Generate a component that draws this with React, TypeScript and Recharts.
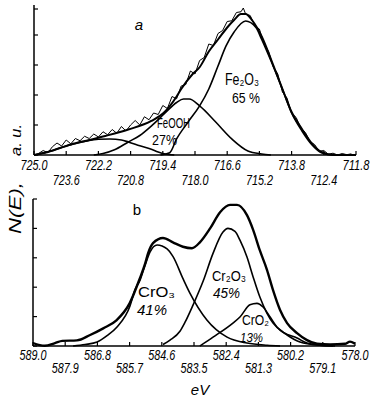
import React from 'react';
import { LineChart, Line, XAxis, YAxis } from 'recharts';

// ---------- Panel a (Fe 2p) ----------
const feTickValues = [725.0, 723.6, 722.2, 720.8, 719.4, 718.0, 716.6, 715.2, 713.8, 712.4, 711.0];
const feTickLabels = ['725.0', '723.6', '722.2', '720.8', '719.4', '718.0', '716.6', '715.2', '713.8', '712.4', '711.8'];
const yTickValues = [0, 1, 2, 3, 4, 5, 6, 7, 8, 9, 10];

const feEnvelope = [
  { e: 725.0, v: 0 }, { e: 724.4, v: 0.2 }, { e: 723.4, v: 0.7 }, { e: 722.6, v: 1.0 },
  { e: 721.9, v: 1.27 }, { e: 720.9, v: 1.7 }, { e: 719.9, v: 2.27 }, { e: 719.3, v: 2.9 },
  { e: 718.8, v: 3.9 }, { e: 718.6, v: 4.4 }, { e: 718.1, v: 5.4 }, { e: 717.8, v: 5.85 },
  { e: 717.4, v: 6.9 }, { e: 717.0, v: 7.7 }, { e: 716.6, v: 8.5 }, { e: 716.3, v: 9.0 },
  { e: 716.0, v: 9.4 }, { e: 715.8, v: 9.4 }, { e: 715.5, v: 8.95 }, { e: 715.1, v: 7.9 },
  { e: 714.65, v: 6.2 }, { e: 714.2, v: 4.4 }, { e: 713.8, v: 2.87 }, { e: 713.35, v: 1.73 },
  { e: 712.9, v: 0.73 }, { e: 712.5, v: 0.2 }, { e: 712.0, v: 0 }, { e: 711.0, v: 0 },
];
const feSatellite = [
  { e: 725.0, v: 0 }, { e: 724.3, v: 0.25 }, { e: 723.6, v: 0.6 }, { e: 722.8, v: 0.9 },
  { e: 722.2, v: 1.05 }, { e: 721.7, v: 1.07 }, { e: 721.2, v: 1.0 }, { e: 720.9, v: 0.87 },
  { e: 720.4, v: 0.62 }, { e: 719.9, v: 0.38 }, { e: 719.6, v: 0.2 }, { e: 719.3, v: 0.07 },
  { e: 718.9, v: 0 },
];
const feOOH = [
  { e: 722.4, v: 0 }, { e: 722.0, v: 0.1 }, { e: 721.5, v: 0.35 }, { e: 720.9, v: 0.87 },
  { e: 720.4, v: 1.3 }, { e: 719.9, v: 1.93 }, { e: 719.3, v: 2.8 }, { e: 718.8, v: 3.5 },
  { e: 718.5, v: 3.73 }, { e: 718.25, v: 3.73 }, { e: 717.8, v: 3.27 }, { e: 717.1, v: 2.2 },
  { e: 716.4, v: 1.07 }, { e: 715.7, v: 0.27 }, { e: 715.1, v: 0.07 }, { e: 714.7, v: 0 },
];
const feFe2O3 = [
  { e: 719.5, v: 0 }, { e: 719.1, v: 0.15 }, { e: 718.8, v: 1.07 }, { e: 718.3, v: 2.2 },
  { e: 717.8, v: 3.27 }, { e: 717.4, v: 4.4 }, { e: 717.0, v: 5.93 }, { e: 716.65, v: 7.27 },
  { e: 716.3, v: 8.2 }, { e: 715.8, v: 8.93 }, { e: 715.35, v: 8.5 }, { e: 715.1, v: 7.7 },
  { e: 714.65, v: 6.1 }, { e: 714.2, v: 4.4 }, { e: 713.8, v: 2.8 }, { e: 713.35, v: 1.6 },
  { e: 712.9, v: 0.65 }, { e: 712.5, v: 0.15 }, { e: 712.0, v: 0 }, { e: 711.0, v: 0 },
];
const feRaw = [
  { e: 724.8, v: 0.1 }, { e: 724.6, v: 0.3 }, { e: 724.4, v: 0.15 }, { e: 724.2, v: 0.55 },
  { e: 724.0, v: 0.8 }, { e: 723.8, v: 0.6 }, { e: 723.6, v: 1.0 }, { e: 723.4, v: 0.75 },
  { e: 723.2, v: 1.1 }, { e: 723.0, v: 0.95 }, { e: 722.8, v: 1.25 }, { e: 722.6, v: 1.1 },
  { e: 722.4, v: 1.4 }, { e: 722.2, v: 1.2 }, { e: 722.0, v: 1.55 }, { e: 721.8, v: 1.35 },
  { e: 721.6, v: 1.7 }, { e: 721.4, v: 1.45 }, { e: 721.2, v: 1.9 }, { e: 721.0, v: 1.6 },
  { e: 720.8, v: 2.0 }, { e: 720.6, v: 2.3 }, { e: 720.4, v: 2.0 }, { e: 720.2, v: 2.55 },
  { e: 720.0, v: 2.35 }, { e: 719.8, v: 2.8 }, { e: 719.6, v: 2.7 }, { e: 719.4, v: 3.3 },
  { e: 719.2, v: 3.1 }, { e: 719.0, v: 3.9 }, { e: 718.8, v: 3.75 }, { e: 718.6, v: 4.6 },
  { e: 718.4, v: 4.7 }, { e: 718.2, v: 5.6 }, { e: 718.0, v: 5.4 }, { e: 717.8, v: 6.3 },
  { e: 717.6, v: 6.5 }, { e: 717.4, v: 7.4 }, { e: 717.2, v: 7.3 }, { e: 717.0, v: 8.1 },
  { e: 716.8, v: 8.3 }, { e: 716.6, v: 8.9 }, { e: 716.4, v: 8.95 }, { e: 716.2, v: 9.5 },
  { e: 716.0, v: 9.55 }, { e: 715.9, v: 9.8 }, { e: 715.8, v: 9.4 }, { e: 715.6, v: 9.3 },
  { e: 715.4, v: 8.6 }, { e: 715.2, v: 8.4 }, { e: 715.0, v: 7.4 }, { e: 714.8, v: 6.9 },
  { e: 714.6, v: 5.9 }, { e: 714.4, v: 5.4 }, { e: 714.2, v: 4.2 }, { e: 714.0, v: 3.8 },
  { e: 713.8, v: 2.8 }, { e: 713.6, v: 2.5 }, { e: 713.4, v: 1.8 }, { e: 713.2, v: 1.5 },
  { e: 713.0, v: 0.9 }, { e: 712.8, v: 0.7 }, { e: 712.6, v: 0.25 }, { e: 712.4, v: 0.3 },
  { e: 712.2, v: 0.05 }, { e: 712.0, v: 0.12 }, { e: 711.8, v: 0.0 }, { e: 711.6, v: 0.1 },
  { e: 711.4, v: 0.02 }, { e: 711.2, v: 0.08 },
];

// ---------- Panel b (Cr 2p) ----------
const crTickValues = [589.0, 587.9, 586.8, 585.7, 584.6, 583.5, 582.4, 581.3, 580.2, 579.1, 578.0];
const crTickLabels = ['589.0', '587.9', '586.8', '585.7', '584.6', '583.5', '582.4', '581.3', '580.2', '579.1', '578.0'];

const crEnvelope = [
  { e: 589.0, v: 0.2 }, { e: 588.6, v: 0.02 }, { e: 588.25, v: 0.2 }, { e: 588.0, v: 0.35 },
  { e: 587.5, v: 0.38 }, { e: 587.05, v: 0.75 }, { e: 586.6, v: 1.2 }, { e: 586.15, v: 1.75 },
  { e: 585.7, v: 2.9 }, { e: 585.35, v: 4.6 }, { e: 585.17, v: 5.6 }, { e: 585.07, v: 6.3 },
  { e: 584.9, v: 7.0 }, { e: 584.56, v: 7.35 }, { e: 584.22, v: 7.05 }, { e: 583.88, v: 6.75 },
  { e: 583.57, v: 6.65 }, { e: 583.3, v: 7.05 }, { e: 582.95, v: 8.0 }, { e: 582.61, v: 9.1 },
  { e: 582.27, v: 9.6 }, { e: 582.03, v: 9.6 }, { e: 581.69, v: 8.9 }, { e: 581.48, v: 7.9 },
  { e: 581.25, v: 6.5 }, { e: 581.01, v: 5.2 }, { e: 580.8, v: 3.8 }, { e: 580.56, v: 2.45 },
  { e: 580.32, v: 1.56 }, { e: 579.98, v: 0.88 }, { e: 579.64, v: 0.4 }, { e: 579.3, v: 0.15 },
  { e: 578.85, v: 0.1 }, { e: 578.34, v: 0.15 }, { e: 578.17, v: 0.3 }, { e: 578.0, v: 0.15 },
];
const crCrO3 = [
  { e: 587.63, v: 0 }, { e: 587.22, v: 0.1 }, { e: 586.81, v: 0.27 }, { e: 586.47, v: 0.7 },
  { e: 586.13, v: 1.3 }, { e: 585.69, v: 2.7 }, { e: 585.52, v: 3.8 }, { e: 585.34, v: 4.5 },
  { e: 585.17, v: 5.5 }, { e: 585.0, v: 6.4 }, { e: 584.76, v: 6.87 }, { e: 584.42, v: 6.6 },
  { e: 584.22, v: 6.1 }, { e: 583.88, v: 4.6 }, { e: 583.64, v: 3.6 }, { e: 583.06, v: 1.77 },
  { e: 582.37, v: 0.6 }, { e: 581.69, v: 0.2 }, { e: 581.0, v: 0.05 }, { e: 580.56, v: 0 },
];
const crCr2O3 = [
  { e: 584.56, v: 0.1 }, { e: 584.32, v: 0.4 }, { e: 583.98, v: 1.0 }, { e: 583.81, v: 1.6 },
  { e: 583.53, v: 2.8 }, { e: 583.19, v: 4.4 }, { e: 582.85, v: 6.3 }, { e: 582.51, v: 7.75 },
  { e: 582.34, v: 8.0 }, { e: 582.1, v: 7.8 }, { e: 581.93, v: 7.2 }, { e: 581.69, v: 6.05 },
  { e: 581.48, v: 4.7 }, { e: 581.25, v: 3.33 }, { e: 581.01, v: 2.24 }, { e: 580.8, v: 1.56 },
  { e: 580.46, v: 0.95 }, { e: 579.98, v: 0.54 }, { e: 579.64, v: 0.2 }, { e: 579.2, v: 0.05 },
  { e: 578.75, v: 0 },
];
const crCrO2 = [
  { e: 583.3, v: 0 }, { e: 582.85, v: 0.6 }, { e: 582.17, v: 1.56 }, { e: 581.93, v: 1.97 },
  { e: 581.59, v: 2.8 }, { e: 581.35, v: 2.9 }, { e: 581.14, v: 2.65 }, { e: 580.9, v: 1.97 },
  { e: 580.67, v: 1.3 }, { e: 580.32, v: 0.75 }, { e: 579.88, v: 0.27 }, { e: 579.2, v: 0.05 },
  { e: 578.68, v: 0 },
];

const FONT = '"Liberation Sans", "DejaVu Sans", Arial, sans-serif';

const makeXTick = (values: number[], labels: string[], dy1: number, dy2: number) => (props: any) => {
  const { x, y, payload } = props;
  const i = values.indexOf(payload.value);
  const dy = i % 2 === 0 ? dy1 : dy2;
  return (
    <g>
      <line x1={x} y1={y} x2={x} y2={y - 4} stroke="#000" strokeWidth={1.2} />
      <text x={x} y={y + dy} textAnchor="middle" fontFamily={FONT} fontStyle="italic" fontSize={15}
        textLength={27} lengthAdjust="spacingAndGlyphs" fill="#000">
        {labels[i]}
      </text>
    </g>
  );
};

const YTick = (props: any) => {
  const { x, y } = props;
  return <line x1={x} y1={y} x2={x + 4} y2={y} stroke="#000" strokeWidth={1.2} />;
};

const FeXTick = makeXTick(feTickValues, feTickLabels, 15, 30);
const CrXTick = makeXTick(crTickValues, crTickLabels, 14, 27);

const lineProps = {
  dataKey: 'v',
  dot: false,
  activeDot: false,
  stroke: '#000',
  isAnimationActive: false,
};

export default function App() {
  return (
    <div style={{ position: 'absolute', left: 0, top: 0, width: 385, height: 403, background: '#fff' }}>
      <div style={{ position: 'absolute', left: 0, top: 0 }}>
        <LineChart width={385} height={200} margin={{ top: 5, right: 29, bottom: 0, left: 0 }}>
          <XAxis dataKey="e" type="number" domain={[711.0, 725.0]} reversed allowDataOverflow
            ticks={feTickValues} interval={0} height={45} tickSize={0} tickMargin={0}
            tickLine={false} tick={<FeXTick />} axisLine={{ stroke: '#000', strokeWidth: 1.5 }} />
          <YAxis type="number" domain={[0, 10]} ticks={yTickValues} width={34} tickSize={0} tickMargin={0}
            tickLine={false} tick={<YTick />} axisLine={{ stroke: '#000', strokeWidth: 1.5 }} />
          <Line {...lineProps} data={feRaw} type="linear" strokeWidth={1} />
          <Line {...lineProps} data={feSatellite} type="monotone" strokeWidth={1.6} />
          <Line {...lineProps} data={feOOH} type="monotone" strokeWidth={1.6} />
          <Line {...lineProps} data={feFe2O3} type="monotone" strokeWidth={1.6} />
          <Line {...lineProps} data={feEnvelope} type="monotone" strokeWidth={2} />
        </LineChart>
      </div>
      <div style={{ position: 'absolute', left: 0, top: 190 }}>
        <LineChart width={385} height={213} margin={{ top: 9, right: 30, bottom: 0, left: 0 }}>
          <XAxis dataKey="e" type="number" domain={[578.0, 589.0]} reversed allowDataOverflow
            ticks={crTickValues} interval={0} height={57} tickSize={0} tickMargin={0}
            tickLine={false} tick={<CrXTick />} axisLine={{ stroke: '#000', strokeWidth: 1.5 }} />
          <YAxis type="number" domain={[0, 10]} ticks={yTickValues} width={33} tickSize={0} tickMargin={0}
            tickLine={false} tick={<YTick />} axisLine={{ stroke: '#000', strokeWidth: 1.5 }} />
          <Line {...lineProps} data={crCrO3} type="monotone" strokeWidth={1.6} />
          <Line {...lineProps} data={crCr2O3} type="monotone" strokeWidth={1.6} />
          <Line {...lineProps} data={crCrO2} type="monotone" strokeWidth={1.6} />
          <Line {...lineProps} data={crEnvelope} type="monotone" strokeWidth={2.4} />
        </LineChart>
      </div>
      <svg width={385} height={403} style={{ position: 'absolute', left: 0, top: 0, pointerEvents: 'none' }}
        fontFamily={FONT} fill="#000">
        <text transform="translate(21,208) rotate(-90)" textAnchor="middle" fontSize={16} fontStyle="italic"
          textLength={52} lengthAdjust="spacingAndGlyphs">N(E),</text>
        <text transform="translate(21,140) rotate(-90)" textAnchor="middle" fontSize={14} fontStyle="italic"
          textLength={32} lengthAdjust="spacingAndGlyphs">a. u.</text>

        <text x={139} y={30} textAnchor="middle" fontSize={15} fontStyle="italic">a</text>
        <text x={225} y={85} fontSize={16} textLength={34} lengthAdjust="spacingAndGlyphs">Fe₂O₃</text>
        <text x={232} y={103} fontSize={14} textLength={28} lengthAdjust="spacingAndGlyphs">65 %</text>
        <text x={157} y={128} fontSize={14} textLength={33} lengthAdjust="spacingAndGlyphs">FeOOH</text>
        <text x={152} y={145} fontSize={14} textLength={25} lengthAdjust="spacingAndGlyphs">27%</text>

        <text x={137} y={215} textAnchor="middle" fontSize={15}>b</text>
        <text x={138} y={297} fontSize={14} textLength={37} lengthAdjust="spacingAndGlyphs">CrO₃</text>
        <text x={137} y={315} fontSize={14} fontStyle="italic" textLength={30} lengthAdjust="spacingAndGlyphs">41%</text>
        <text x={212} y={281} fontSize={15} textLength={34} lengthAdjust="spacingAndGlyphs">Cr₂O₃</text>
        <text x={213} y={298} fontSize={14} fontStyle="italic" textLength={27} lengthAdjust="spacingAndGlyphs">45%</text>
        <text x={242} y={325} fontSize={14} textLength={27} lengthAdjust="spacingAndGlyphs">CrO₂</text>
        <text x={240} y={342} fontSize={13} fontStyle="italic" textLength={23} lengthAdjust="spacingAndGlyphs">13%</text>
        <text x={200} y={395} textAnchor="middle" fontSize={15} fontStyle="italic">eV</text>
      </svg>
    </div>
  );
}
